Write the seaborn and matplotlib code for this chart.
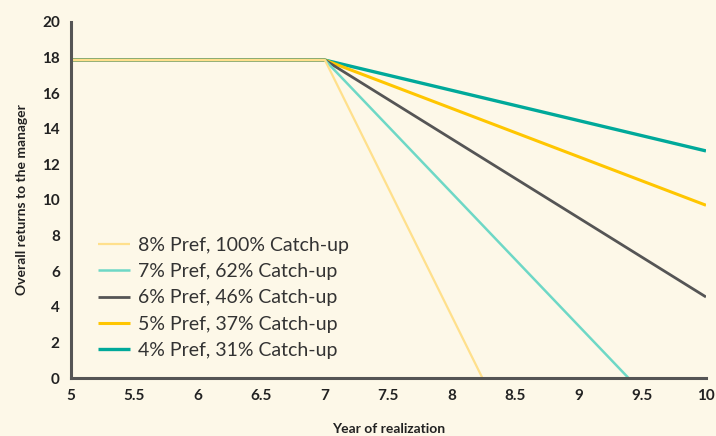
import numpy as np
import pandas as pd
import matplotlib.pyplot as plt
import seaborn as sns

# data
labels = ['8% Pref, 100% Catch-up', '7% Pref, 62% Catch-up', '6% Pref, 46% Catch-up',
          '5% Pref, 37% Catch-up', '4% Pref, 31% Catch-up']
colors = ['#FFE08C', '#6ED8C6', '#555555', '#FFC600', '#00A99A']
widths = [1.6, 1.8, 2.0, 2.2, 2.4]
years_8 = [5, 7, 8.24]
vals_8 = [17.85, 17.85, 0]
years_7 = [5, 7, 9.39]
vals_7 = [17.85, 17.85, 0]
years_6 = [5, 7, 10]
vals_6 = [17.85, 17.85, 4.55]
years_5 = [5, 7, 10]
vals_5 = [17.85, 17.85, 9.7]
years_4 = [5, 7, 10]
vals_4 = [17.85, 17.85, 12.75]

all_years = [years_8, years_7, years_6, years_5, years_4]
all_vals = [vals_8, vals_7, vals_6, vals_5, vals_4]
rows = []
for lab, ys, vs in zip(labels, all_years, all_vals):
    for x, v in zip(ys, vs):
        rows.append({'year': x, 'value': v, 'series': lab})
df = pd.DataFrame(rows)

bg = '#FDF8E8'
plt.rcParams['font.family'] = ['Lato', 'DejaVu Sans']
fig = plt.figure(figsize=(7.16, 4.36), dpi=100, facecolor=bg)
ax = fig.add_axes([0.099, 0.133, 0.887, 0.817])
ax.set_facecolor(bg)

# draw the lowest-slope series first so the light ones sit on top in the flat part
for lab, c, w in list(zip(labels, colors, widths))[::-1]:
    sns.lineplot(data=df[df['series'] == lab], x='year', y='value', color=c,
                 linewidth=w, ax=ax, label=lab, solid_capstyle='butt')

handles, labs = ax.get_legend_handles_labels()
leg = ax.legend(handles[::-1], labs[::-1], loc='lower left', bbox_to_anchor=(0.015, 0.004),
                frameon=False, fontsize=14, handlelength=1.65, handletextpad=0.4,
                labelspacing=0.48, labelcolor='#333333')

ax.set_xlim(5, 10)
ax.set_ylim(0, 20)
ax.set_xticks(np.arange(5, 10.01, 0.5))
ax.set_xticklabels(['5', '5.5', '6', '6.5', '7', '7.5', '8', '8.5', '9', '9.5', '10'])
ax.set_yticks(np.arange(0, 21, 2))
ax.tick_params(length=0, labelsize=11, colors='#222222', pad=8)
for t in ax.get_xticklabels() + ax.get_yticklabels():
    t.set_fontweight('bold')
ax.set_xlabel('Year of realization', fontsize=10, fontweight='bold', color='#222222', labelpad=14)
ax.set_ylabel('Overall returns to the manager', fontsize=10, fontweight='bold', color='#222222', labelpad=10)
for s in ['top', 'right']:
    ax.spines[s].set_visible(False)
for s in ['left', 'bottom']:
    ax.spines[s].set_color('#555555')
    ax.spines[s].set_linewidth(2.2)

plt.savefig('out.png', dpi=100, facecolor=bg)
